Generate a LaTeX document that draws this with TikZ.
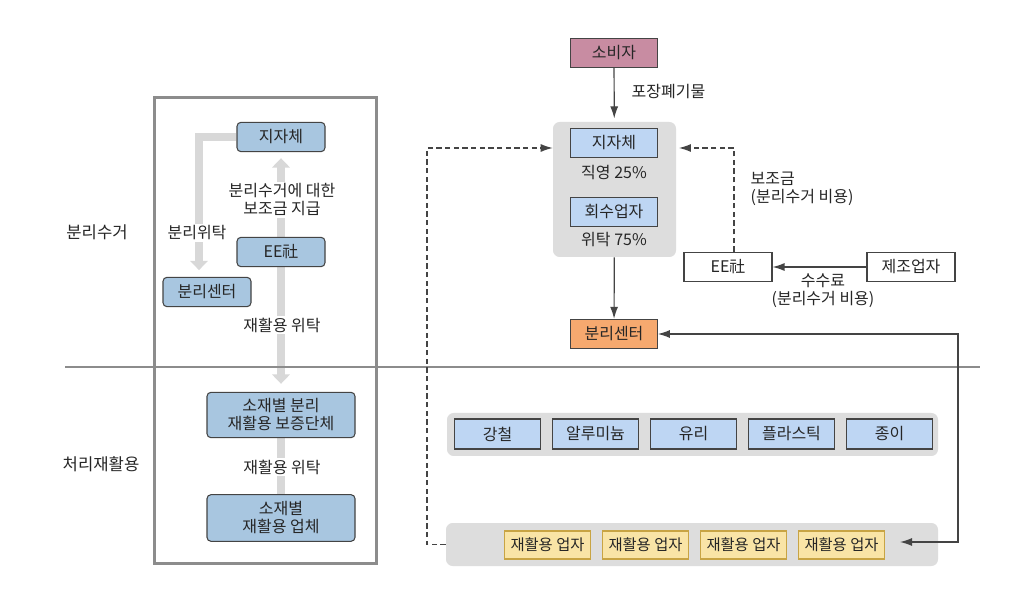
\documentclass[tikz,border=0pt]{standalone}
\usepackage{fontspec}
\setmainfont{Noto Sans CJK KR}
\usetikzlibrary{arrows.meta}

\definecolor{leftblue}{HTML}{A8C6E0}
\definecolor{rightblue}{HTML}{BED6F3}
\definecolor{panelgrey}{HTML}{DDDDDD}
\definecolor{bargrey}{HTML}{D8D8D8}
\definecolor{framegrey}{HTML}{8C8C8C}
\definecolor{consumerpink}{HTML}{C88CA2}
\definecolor{centreorange}{HTML}{F6A96F}
\definecolor{firmyellow}{HTML}{F9E4A6}
\definecolor{firmedge}{HTML}{C8A444}
\definecolor{edgegrey}{HTML}{444444}

\pgfdeclarelayer{back}
\pgfsetlayers{back,main}

\tikzset{
	lbox/.style={draw=edgegrey, line width=0.8pt, fill=leftblue, rounded corners=3pt, minimum width=66pt, minimum height=22pt, inner sep=1pt, align=center},
	lbigbox/.style={lbox, minimum width=111pt, minimum height=34pt},
	rbox/.style={draw=edgegrey, line width=0.8pt, fill=rightblue, minimum width=65pt, minimum height=22pt, inner sep=1pt},
	panel/.style={fill=panelgrey, rounded corners=5pt, inner sep=0pt},
	firm/.style={draw=firmedge, line width=0.9pt, fill=firmyellow, minimum width=64pt, minimum height=21pt, inner sep=0.5pt, font=\fontsize{11.5pt}{14pt}\selectfont},
	plain/.style={fill=white, inner sep=1.5pt, align=center},
	fatbar/.style={draw=bargrey, line width=6pt},
	fatarrow/.style={fatbar, -{Triangle[length=7pt,width=13pt]}},
	link/.style={draw=edgegrey, line width=0.9pt, -{Latex[length=9pt,width=6pt]}},
	dashlink/.style={link, dash pattern=on 4pt off 2.5pt},
	dbllink/.style={link, {Latex[length=9pt,width=6pt]}-{Latex[length=9pt,width=6pt]}},
	sidelabel/.style={font=\fontsize{12.5pt}{14pt}\selectfont},
}

\begin{document}
\begin{tikzpicture}[x=0.75pt, y=-0.75pt, every node/.style={font=\fontsize{12pt}{13.5pt}\selectfont, text=black!85}]
			%%%%% START %%%%%
			\begin{pgfonlayer}{back}
				\fill[white] (0,0) rectangle (1024,605);
			\end{pgfonlayer}
			\useasboundingbox (0,0) rectangle (1024,605);
			
			% frame and divider
			\draw[framegrey, line width=2.25pt] (154,98) rectangle (376,563);
			\draw[framegrey, line width=1.2pt] (65,367) -- (980,367);
			
			\node[sidelabel] (labSep) at (97,232) {분리수거};
			\node[sidelabel] (labRec) at (101,464) {처리재활용};
			
			% left scheme
			\node[lbox] (lMunic) at (281,137) {지자체};
			\node[lbox] (lEE) at (281,252) {EE社};
			\node[lbox] (lSort) at (207,292) {분리센터};
			\node[lbigbox] (lGuar) at (281,415) {소재별 분리\\재활용 보증단체};
			\node[lbigbox, minimum height=35pt] (lFirms) at (281,518) {소재별\\재활용 업체};
			
			\begin{pgfonlayer}{back}
				\draw[fatarrow, shorten >=4.5pt] (lEE) -- (lMunic);
				\draw[fatarrow, shorten >=6pt] (lEE) -- (lGuar);
				\draw[fatbar] (lGuar) -- (lFirms);
				\draw[fatarrow, shorten >=5pt] (lMunic.west) -| ([xshift=-6pt]lSort.north);
			\end{pgfonlayer}
			
			\node[plain] (tSubsidy) at (282,200) {분리수거에 대한\\보조금 지급};
			\node[plain] (tConsign) at (282,325) {재활용 위탁};
			\node[plain] (tSortCons) at (197,233) {분리위탁};
			\node[plain] (tConsignB) at (282,467) {재활용 위탁};
			
			% right scheme
			\node[panel, minimum width=92.25pt, minimum height=101.25pt] (collect) at (614.5,189.5) {};
			\node[panel, minimum width=368.25pt, minimum height=32.25pt] (matPanel) at (692.5,434.5) {};
			\node[panel, minimum width=369pt, minimum height=32.25pt] (firmPanel) at (692,544.5) {};
			
			\node[rbox, fill=consumerpink] (consumer) at (614,53) {소비자};
			\node[rbox] (rMunic) at (614,143) {지자체};
			\node (tDirect) at (614,173) {직영 25\%};
			\node[rbox] (rCollector) at (614,212) {회수업자};
			\node (tEntrust) at (614,240) {위탁 75\%};
			\node[rbox, fill=centreorange] (rSort) at (614,334) {분리센터};
			\node[rbox, fill=white, minimum width=66pt] (rEE) at (728,267) {EE社};
			\node[rbox, fill=white, minimum width=66pt] (maker) at (911,267) {제조업자};
			
			\foreach \m [count=\i] in {강철,알루미늄,유리,플라스틱,종이}
				\node[rbox, minimum height=22.5pt] (mat\i) at ({497.5+98*(\i-1)},434) {\m};
			\foreach \i in {1,...,4}
				\node[firm] (firm\i) at ({547.5+98*(\i-1)},545) {재활용 업자};
			
			\draw[link, shorten >=2.5pt] (consumer) -- (collect);
			\node[anchor=west] (tWaste) at (627,92) {포장폐기물};
			\draw[link] (collect) -- (rSort);
			
			\coordinate (leftTurn) at (427,148);
			\draw[dashlink] (firmPanel.west) -| (leftTurn) -- (collect.west |- leftTurn);
			\draw[dashlink, shorten >=2pt] ([xshift=4.5pt]rEE.north) |- (collect.east |- leftTurn);
			\node[anchor=west, align=left] (tGrant) at (746,189) {보조금\\(분리수거 비용)};
			
			\draw[link] (maker) -- (rEE);
			\node[align=center] (tFee) at (823,291) {수수료\\(분리수거 비용)};
			
			\coordinate (rightIn) at (900,542);
			\coordinate (rightTurn) at (958,334);
			\draw[dbllink] (rightIn) -| (rightTurn) -- (rSort.east);
			
			%%%%% END %%%%%
\end{tikzpicture}
\end{document}
